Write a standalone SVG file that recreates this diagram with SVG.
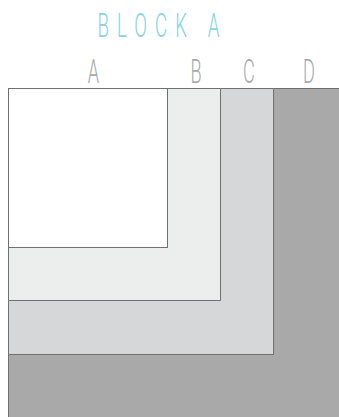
<svg xmlns="http://www.w3.org/2000/svg" width="339" height="417" viewBox="0 0 339 417">
<style>
.r{stroke:#707070;stroke-width:1}
.a{fill:#ffffff}
.b{fill:#eceeed}
.c{fill:#d6d7d9}
.d{fill:#a9a9a9}
.lbl{font-family:Roboto,"Liberation Sans",sans-serif;font-weight:300;font-size:33px;fill:#a9a9ab;text-anchor:middle}
.ttl{font-family:Roboto,"Liberation Sans",sans-serif;font-weight:300;font-size:34px;fill:#85d3e6;text-anchor:middle}
</style>
<g id="title"><text class="ttl" transform="translate(158.5,36.7) scale(0.55,1)" textLength="222" lengthAdjust="spacing">BLOCK A</text></g>
<g id="label-A"><text class="lbl" transform="translate(93.5,83.3) scale(0.55,1)">A</text></g>
<g id="label-B"><text class="lbl" transform="translate(196,83.3) scale(0.55,1)">B</text></g>
<g id="label-C"><text class="lbl" transform="translate(249,83.3) scale(0.55,1)">C</text></g>
<g id="label-D"><text class="lbl" transform="translate(309,83.3) scale(0.55,1)">D</text></g>
<g id="block-D"><path class="r d" d="M273.5,88.5 H340 V418 H8.5 V354.5 H273.5 Z"/></g>
<g id="block-C"><path class="r c" d="M220.5,88.5 H273.5 V354.5 H8.5 V300.5 H220.5 Z"/></g>
<g id="block-B"><path class="r b" d="M167.5,88.5 H220.5 V300.5 H8.5 V247.5 H167.5 Z"/></g>
<g id="block-A"><rect class="r a" x="8.5" y="88.5" width="159" height="159"/></g>
</svg>
